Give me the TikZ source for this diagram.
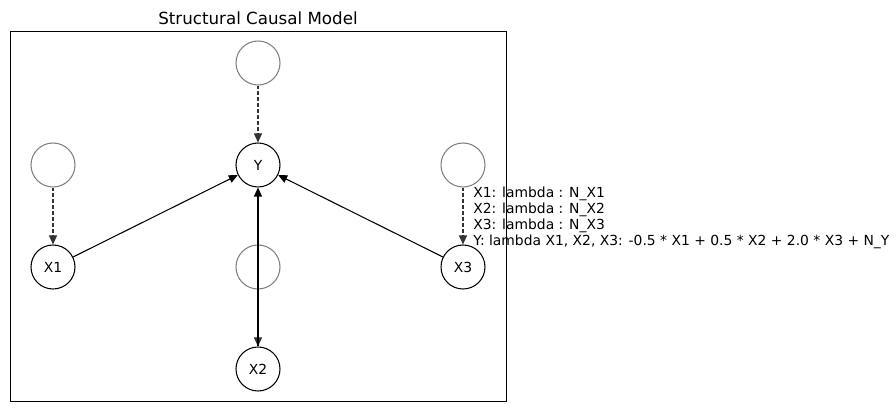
\documentclass[tikz,border=0pt]{standalone}
\usepackage{fontspec}
\setmainfont{DejaVu Sans}
\usetikzlibrary{arrows.meta, positioning}

\begin{document}
\begin{tikzpicture}[x=0.02cm, y=-0.02cm,
      var/.style={draw=black, circle, minimum size=44*0.02cm, inner sep=0pt,
                  line width=0.6pt, font=\fontsize{7.9}{9}\selectfont},
      noise/.style={draw=black!50, circle, minimum size=44*0.02cm, inner sep=0pt,
                    line width=0.6pt},
      cause/.style={line width=0.6pt, -{Triangle[length=0.18cm, width=0.16cm]}},
      noisearrow/.style={line width=0.6pt, dash pattern=on 2.2pt off 1.2pt, draw=black!80,
                         -{Triangle[length=0.18cm, width=0.16cm]}}
    ]
      \useasboundingbox (0,0) rectangle (896,411);
      \draw[line width=0.5pt] (10,31) rectangle (506,401);
      \node[font=\fontsize{9.5}{11}\selectfont] (title) at (258,18) {Structural Causal Model};

      % variables
      \node[var] (Y)  at (258,165) {Y};
      \node[var] (X1) at (53,267)  {X1};
      \node[var] (X2) at (258,369) {X2};
      \node[var] (X3) at (463,267) {X3};

      % exogenous noise
      \node[noise] (NY)  at (258,63)  {};
      \node[noise] (NX1) at (53,165)  {};
      \node[noise] (NX2) at (258,267) {};
      \node[noise] (NX3) at (463,165) {};

      \draw[noisearrow] (NY)  -- (Y);
      \draw[noisearrow] (NX1) -- (X1);
      \draw[noisearrow] (NX2) -- (X2);
      \draw[noisearrow] (NX3) -- (X3);

      \draw[cause] (X1) -- (Y);
      \draw[cause] (X2) -- (Y);
      \draw[cause] (X3) -- (Y);

      \node[anchor=west, align=left, inner sep=0pt,
            font=\fontsize{7.9}{9.1}\selectfont] (eqs) at (473,218)
        {X1: lambda : N\_X1\\
         X2: lambda : N\_X2\\
         X3: lambda : N\_X3\\
         Y: lambda X1, X2, X3: -0.5 * X1 + 0.5 * X2 + 2.0 * X3 + N\_Y};
    \end{tikzpicture}
\end{document}
